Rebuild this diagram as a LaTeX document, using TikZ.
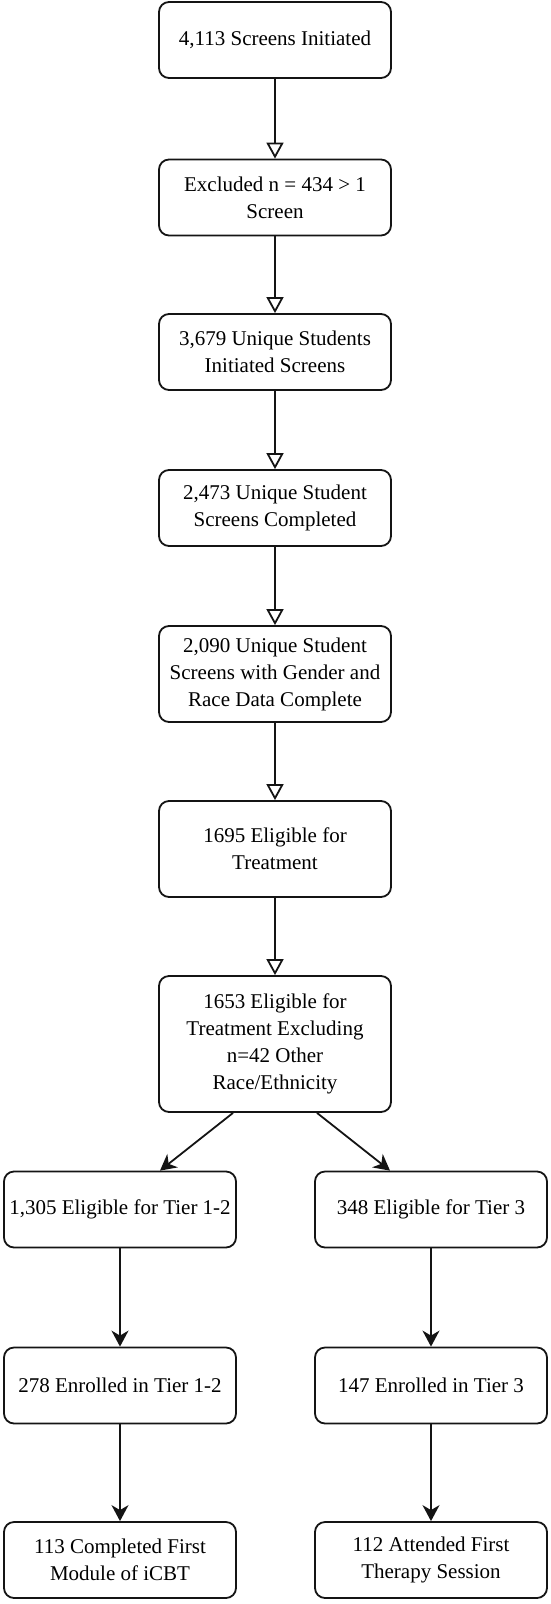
\documentclass[tikz,border=0pt]{standalone}
\usepackage{fontspec}
\setmainfont{Liberation Serif}
\usepackage{tikz}
\usetikzlibrary{shapes, arrows.meta, positioning, calc}
\definecolor{boxline}{RGB}{20, 20, 20}

\begin{document}
\begin{tikzpicture}[
    flowbox/.style={draw=boxline, line width=1.8pt, rounded corners=10pt, fill=white,
      align=center, inner xsep=2pt, minimum width=232pt, minimum height=76pt,
      font=\fontsize{21}{27}\selectfont},
    openarrow/.style={draw=boxline, line width=1.8pt, -{Triangle[open, width=17pt, length=16pt]}},
    tierarrow/.style={draw=boxline, line width=1.8pt, -{Stealth[width=17pt, length=16pt, inset=5pt]}}
  ]
  \useasboundingbox (0,0) rectangle (550pt,-1604pt);

  % Screening chain
  \node[flowbox] (initiated) at (275pt, -40pt) {4,113 Screens Initiated};
  \node[flowbox] (excluded) at (275pt, -197.5pt) {Excluded n = 434 > 1\\Screen};
  \node[flowbox] (unique) at (275pt, -352pt) {3,679 Unique Students\\Initiated Screens};
  \node[flowbox] (completed) at (275pt, -508pt) {2,473 Unique Student\\Screens Completed};
  \node[flowbox, minimum height=96pt] (gender) at (275pt, -674pt) {2,090 Unique Student\\Screens with Gender and\\Race Data Complete};
  \node[flowbox, minimum height=96pt] (eligible) at (275pt, -849pt) {1695 Eligible for\\Treatment};
  \node[flowbox, minimum height=136pt] (eligexcl) at (275pt, -1044pt) {1653 Eligible for\\Treatment Excluding\\n=42 Other\\Race/Ethnicity};

  \draw[openarrow] (initiated) -- (excluded);
  \draw[openarrow] (excluded) -- (unique);
  \draw[openarrow] (unique) -- (completed);
  \draw[openarrow] (completed) -- (gender);
  \draw[openarrow] (gender) -- (eligible);
  \draw[openarrow] (eligible) -- (eligexcl);

  % Tier 1-2 branch
  \node[flowbox] (tierlow) at (120pt, -1209.5pt) {1,305 Eligible for Tier 1-2};
  \node[flowbox] (enrlow) at (120pt, -1385.5pt) {278 Enrolled in Tier 1-2};
  \node[flowbox] (module) at (120pt, -1560pt) {113 Completed First\\Module of iCBT};

  % Tier 3 branch
  \node[flowbox] (tierhigh) at (431pt, -1209.5pt) {348 Eligible for Tier 3};
  \node[flowbox] (enrhigh) at (431pt, -1385.5pt) {147 Enrolled in Tier 3};
  \node[flowbox] (therapy) at (431pt, -1560pt) {112 Attended First\\Therapy Session};

  \draw[tierarrow] ([xshift=-42pt]eligexcl.south) -- ([xshift=40pt]tierlow.north);
  \draw[tierarrow] ([xshift=42pt]eligexcl.south) -- ([xshift=-41pt]tierhigh.north);
  \draw[tierarrow] (tierlow) -- (enrlow);
  \draw[tierarrow] (enrlow) -- (module);
  \draw[tierarrow] (tierhigh) -- (enrhigh);
  \draw[tierarrow] (enrhigh) -- (therapy);
\end{tikzpicture}
\end{document}
